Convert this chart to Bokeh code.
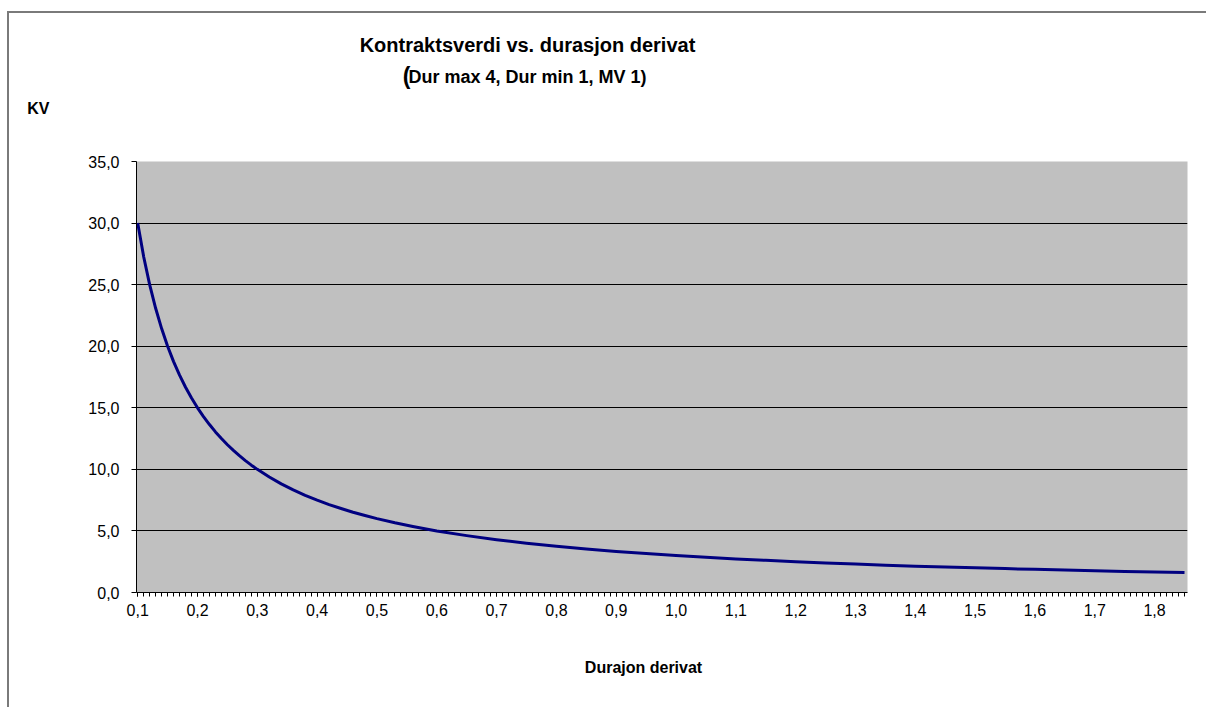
from bokeh.plotting import figure
from bokeh.models import Range1d, FixedTicker
from bokeh.layouts import column
from bokeh.core.properties import value
from bokeh.embed import file_html
from bokeh.resources import INLINE

# Data
dur_derivat = [0.10, 0.11, 0.12, 0.13, 0.14, 0.15, 0.16, 0.17, 0.18, 0.19,
               0.20, 0.21, 0.22, 0.23, 0.24, 0.25, 0.26, 0.27, 0.28, 0.29,
               0.30, 0.32, 0.34, 0.36, 0.38, 0.40, 0.42, 0.44, 0.46, 0.48,
               0.50, 0.53, 0.56, 0.60, 0.65, 0.70, 0.75, 0.80, 0.85, 0.90,
               0.95, 1.00, 1.05, 1.10, 1.15, 1.20, 1.25, 1.30, 1.35, 1.40,
               1.45, 1.50, 1.55, 1.60, 1.65, 1.70, 1.75, 1.80, 1.85]
kontraktsverdi = [30.00, 27.27, 25.00, 23.08, 21.43, 20.00, 18.75, 17.65, 16.67, 15.79,
                  15.00, 14.29, 13.64, 13.04, 12.50, 12.00, 11.54, 11.11, 10.71, 10.34,
                  10.00, 9.38, 8.82, 8.33, 7.89, 7.50, 7.14, 6.82, 6.52, 6.25,
                  6.00, 5.66, 5.36, 5.00, 4.62, 4.29, 4.00, 3.75, 3.53, 3.33,
                  3.16, 3.00, 2.86, 2.73, 2.61, 2.50, 2.40, 2.31, 2.22, 2.14,
                  2.07, 2.00, 1.94, 1.88, 1.82, 1.76, 1.71, 1.67, 1.62]

x_ticks = [0.1, 0.2, 0.3, 0.4, 0.5, 0.6, 0.7, 0.8, 0.9, 1.0,
           1.1, 1.2, 1.3, 1.4, 1.5, 1.6, 1.7, 1.8]
x_labels = ["0,1", "0,2", "0,3", "0,4", "0,5", "0,6", "0,7", "0,8", "0,9", "1,0",
            "1,1", "1,2", "1,3", "1,4", "1,5", "1,6", "1,7", "1,8"]
y_ticks = [0, 5, 10, 15, 20, 25, 30, 35]
y_labels = ["0,0", "5,0", "10,0", "15,0", "20,0", "25,0", "30,0", "35,0"]

title_text = "Kontraktsverdi vs. durasjon derivat"
subtitle_paren = "("
subtitle_text = "Dur max 4, Dur min 1, MV 1)"
y_title = "KV"
x_title = "Durajon derivat"

FONT = "Liberation Sans"
W = 1197
TOP0 = 13                     # page y of the layout content
HEAD_H, MAIN_H, FOOT_H = 140, 474, 80
FRAME_L, FRAME_R = 136, 1187  # page x of the (aligned) plot frames


def text_panel(y0, h):
    f = figure(width=W, height=h, output_backend="svg", toolbar_location=None,
               x_range=Range1d(FRAME_L, FRAME_R), y_range=Range1d(y0 + h, y0),
               x_axis_location=None, y_axis_location="left", min_border=0)
    f.outline_line_color = None
    f.grid.visible = False
    f.background_fill_color = "white"
    f.border_fill_color = "white"
    f.yaxis.axis_line_color = None
    f.yaxis.major_tick_in = 0
    f.yaxis.major_tick_out = 0
    f.yaxis.minor_tick_in = 0
    f.yaxis.minor_tick_out = 0
    f.yaxis.ticker = FixedTicker(ticks=[])
    return f


def put(f, x, y, txt, size):
    f.text(x=[x], y=[y], text=[txt], text_align="center", text_baseline="middle",
           text_font=value(FONT), text_font_style="bold",
           text_font_size=size, text_color="black")


header = text_panel(TOP0, HEAD_H)
put(header, 527, 44, title_text, "20px")
put(header, 406, 75, subtitle_paren, "23px")
put(header, 527, 76, subtitle_text, "18px")
# "KV" sits left of the frame: render it as the header's single y-axis label
kv_y = 108
header.yaxis.ticker = FixedTicker(ticks=[kv_y])
header.yaxis.major_label_overrides = {kv_y: y_title}
header.yaxis.major_label_text_font = FONT
header.yaxis.major_label_text_font_style = "bold"
header.yaxis.major_label_text_font_size = "16px"
header.yaxis.major_label_text_color = "black"
header.yaxis.major_label_standoff = 87

p = figure(width=W, height=MAIN_H, output_backend="svg", toolbar_location=None,
           x_range=Range1d(0.098, 1.855), y_range=Range1d(0, 35),
           min_border_left=127, min_border_right=19,
           min_border_top=8, min_border_bottom=35)
p.background_fill_color = "#C0C0C0"
p.border_fill_color = "white"
p.outline_line_color = None

p.line(dur_derivat, kontraktsverdi, line_color="#000080", line_width=3,
       line_join="round")

minor = [round(0.1 + 0.01 * i, 2) for i in range(176)]
p.xaxis.ticker = FixedTicker(ticks=x_ticks, minor_ticks=minor)
p.xaxis.major_label_overrides = dict(zip(x_ticks, x_labels))
p.xaxis.major_tick_in = 0
p.xaxis.major_tick_out = 4
p.xaxis.minor_tick_in = 0
p.xaxis.minor_tick_out = 4
p.xaxis.major_label_standoff = 7
for ax in (p.xaxis, p.yaxis):
    ax.axis_line_color = "black"
    ax.axis_line_width = 1
    ax.major_tick_line_color = "black"
    ax.minor_tick_line_color = "black"
    ax.major_label_text_font = FONT
    ax.major_label_text_font_size = "16px"
    ax.major_label_text_color = "black"

p.yaxis.ticker = FixedTicker(ticks=y_ticks, minor_ticks=[])
p.yaxis.major_label_overrides = dict(zip(y_ticks, y_labels))
p.yaxis.major_tick_in = 0
p.yaxis.major_tick_out = 5
p.yaxis.minor_tick_out = 0
p.yaxis.major_label_standoff = 12

p.xgrid.visible = False
p.ygrid.ticker = FixedTicker(ticks=y_ticks[1:-1])
p.ygrid.grid_line_color = "black"
p.ygrid.grid_line_width = 1

footer = text_panel(TOP0 + HEAD_H + MAIN_H, FOOT_H)
put(footer, 643, 667, x_title, "16px")

layout = column(header, p, footer, spacing=0)
layout.styles = {"margin-left": "7px", "margin-top": "11px",
                 "border-left": "2px solid #7a7a7a", "border-top": "2px solid #7a7a7a"}

open("out.html", "w").write(file_html(layout, INLINE))
